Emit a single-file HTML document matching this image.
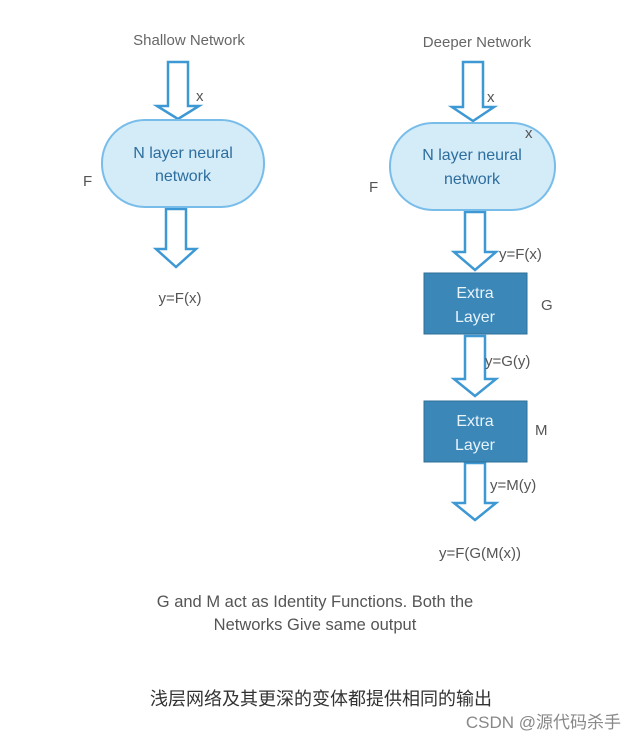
<!DOCTYPE html>
<html><head><meta charset="utf-8"><style>
body{margin:0;background:#fff;}
svg text{font-family:"Liberation Sans","Noto Sans CJK SC",sans-serif;}
</style></head><body>
<svg width="636" height="741" xmlns="http://www.w3.org/2000/svg">
<g fill="#fff" stroke="#3d98d3" stroke-width="2.5" stroke-linejoin="miter">
<path d="M168,62 H188 V106 H199 L178,119 L157,106 H168 Z"/>
<path d="M166,209 H186 V249 H196 L176,267 L156,249 H166 Z"/>
<path d="M463,62 H483 V107 H494 L473,121 L452,107 H463 Z"/>
<path d="M465,212 H485 V252 H496 L475,270 L454,252 H465 Z"/>
<path d="M465,336 H485 V379 H496 L475,396 L454,379 H465 Z"/>
<path d="M465,463 H485 V503 H496 L475,520 L454,503 H465 Z"/>
</g>
<rect x="102" y="120" width="162" height="87" rx="43" ry="43" fill="#d4ebf8" stroke="#78bdea" stroke-width="2"/>
<rect x="390" y="123" width="165" height="87" rx="43" ry="43" fill="#d4ebf8" stroke="#78bdea" stroke-width="2"/>
<rect x="424" y="273" width="103" height="61" fill="#3a87b8" stroke="#2e6f99" stroke-width="1"/>
<rect x="424" y="401" width="103" height="61" fill="#3a87b8" stroke="#2e6f99" stroke-width="1"/>
<g fill="#555" font-size="15">
<text x="189" y="45" text-anchor="middle" fill="#666">Shallow Network</text>
<text x="477" y="47" text-anchor="middle" fill="#666">Deeper Network</text>
<text x="196" y="101">x</text>
<text x="487" y="102">x</text>
<text x="525" y="138">x</text>
<text x="83" y="186">F</text>
<text x="369" y="192">F</text>
<text x="183" y="158" text-anchor="middle" fill="#2d6e9e" font-size="16">N layer neural</text>
<text x="183" y="181" text-anchor="middle" fill="#2d6e9e" font-size="16">network</text>
<text x="472" y="160" text-anchor="middle" fill="#2d6e9e" font-size="16">N layer neural</text>
<text x="472" y="184" text-anchor="middle" fill="#2d6e9e" font-size="16">network</text>
<text x="180" y="303" text-anchor="middle">y=F(x)</text>
<text x="499" y="259">y=F(x)</text>
<text x="485" y="366">y=G(y)</text>
<text x="490" y="490">y=M(y)</text>
<text x="541" y="310">G</text>
<text x="535" y="435">M</text>
<text x="475" y="298" text-anchor="middle" fill="#e8f3fa" font-size="16">Extra</text>
<text x="475" y="322" text-anchor="middle" fill="#e8f3fa" font-size="16">Layer</text>
<text x="475" y="426" text-anchor="middle" fill="#e8f3fa" font-size="16">Extra</text>
<text x="475" y="450" text-anchor="middle" fill="#e8f3fa" font-size="16">Layer</text>
<text x="480" y="558" text-anchor="middle">y=F(G(M(x))</text>
<text x="315" y="607" text-anchor="middle" font-size="16.5">G and M act as Identity Functions. Both the</text>
<text x="315" y="630" text-anchor="middle" font-size="16.5">Networks Give same output</text>
<text x="321" y="705" text-anchor="middle" fill="#333" font-size="18">浅层网络及其更深的变体都提供相同的输出</text>
<text x="621" y="728" text-anchor="end" fill="#888" font-size="17">CSDN @源代码杀手</text>
</g>
</svg>
</body></html>
